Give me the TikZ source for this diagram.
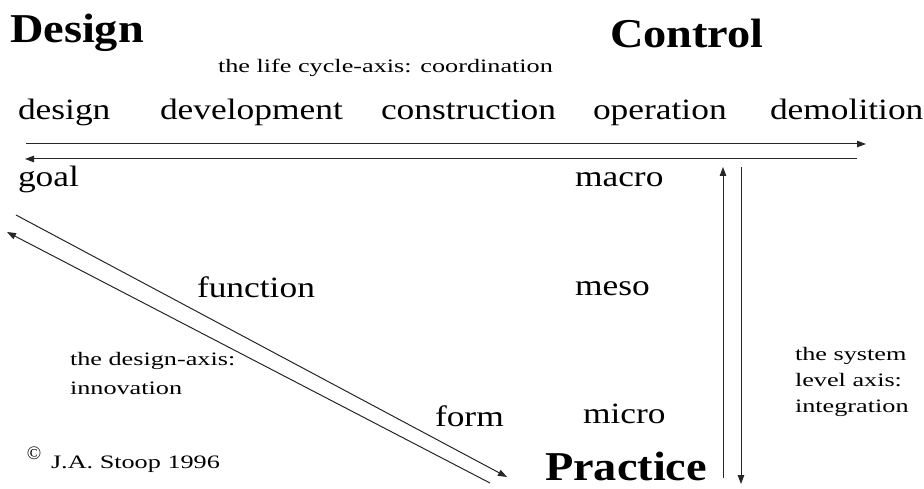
\documentclass[tikz,border=0pt]{standalone}
\usepackage{fontspec}
\usetikzlibrary{arrows.meta}
\setmainfont{Liberation Serif}
\newfontfamily\bigf[FakeStretch=1.13]{Liberation Serif}
\newfontfamily\midf[FakeStretch=1.2]{Liberation Serif}
\newfontfamily\smallf[FakeStretch=1.38]{Liberation Serif}
\begin{document}
\begin{tikzpicture}[x=1pt,y=-1pt,
  every node/.style={inner sep=0pt,outer sep=0pt,anchor=base west,text=black},
  title/.style={font=\bigf\fontsize{41}{44}\selectfont\bfseries},
  lbl/.style={font=\midf\fontsize{29.5}{32}\selectfont},
  note/.style={font=\smallf\fontsize{19}{27}\selectfont,align=left},
  axis/.style={draw=black!85,line width=1pt,-{Triangle[length=9pt,width=6.5pt]}}]
\useasboundingbox (0,0) rectangle (924,489);
% titles
\node[title] (tdesign) at (10,43) {Design};
\node[title] (tcontrol) at (610,48) {Control};
\node[title] (tpractice) at (545,480) {Practice};
% life cycle axis
\node[note] (lca) at (218,73) {the life cycle-axis: coordination};
\node[lbl] (l1) at (18,120) {design};
\node[lbl] (l2) at (160,120) {development};
\node[lbl] (l3) at (381,120) {construction};
\node[lbl] (l4) at (593,120) {operation};
\node[lbl] (l5) at (770,120) {demolition};
% other labels
\node[lbl] (goal) at (18,187) {goal};
\node[lbl] (macro) at (575,187) {macro};
\node[lbl] (function) at (197,298) {function};
\node[lbl] (meso) at (575,295) {meso};
\node[lbl] (form) at (435,426) {form};
\node[lbl] (micro) at (583,423) {micro};
% notes
\node[note] (dax1) at (70,365) {the design-axis:};
\node[note] (dax2) at (70,394) {innovation};
\node[note] (sax1) at (795,360) {the system};
\node[note] (sax2) at (795,386) {level axis:};
\node[note] (sax3) at (795,412) {integration};
\node[font=\fontsize{19}{19}\selectfont] (copy) at (27,459) {\textcopyright};
\node[note] (author) at (51,468) {J.A. Stoop 1996};
% connector end points
\coordinate (h1s) at (26,144);
\coordinate (h1e) at (866,144);
\coordinate (h2s) at (857,159);
\coordinate (h2e) at (25,159);
\coordinate (d1s) at (16,215);
\coordinate (d1e) at (507,477);
\coordinate (d2s) at (490,483);
\coordinate (d2e) at (7,232);
\coordinate (v1s) at (723,478);
\coordinate (v1e) at (723,167);
\coordinate (v2s) at (741,167);
\coordinate (v2e) at (741,484);
% arrows
\draw[axis] (h1s) -- (h1e);
\draw[axis] (h2s) -- (h2e);
\draw[axis] (d1s) -- (d1e);
\draw[axis] (d2s) -- (d2e);
\draw[axis] (v1s) -- (v1e);
\draw[axis] (v2s) -- (v2e);
\end{tikzpicture}
\end{document}
